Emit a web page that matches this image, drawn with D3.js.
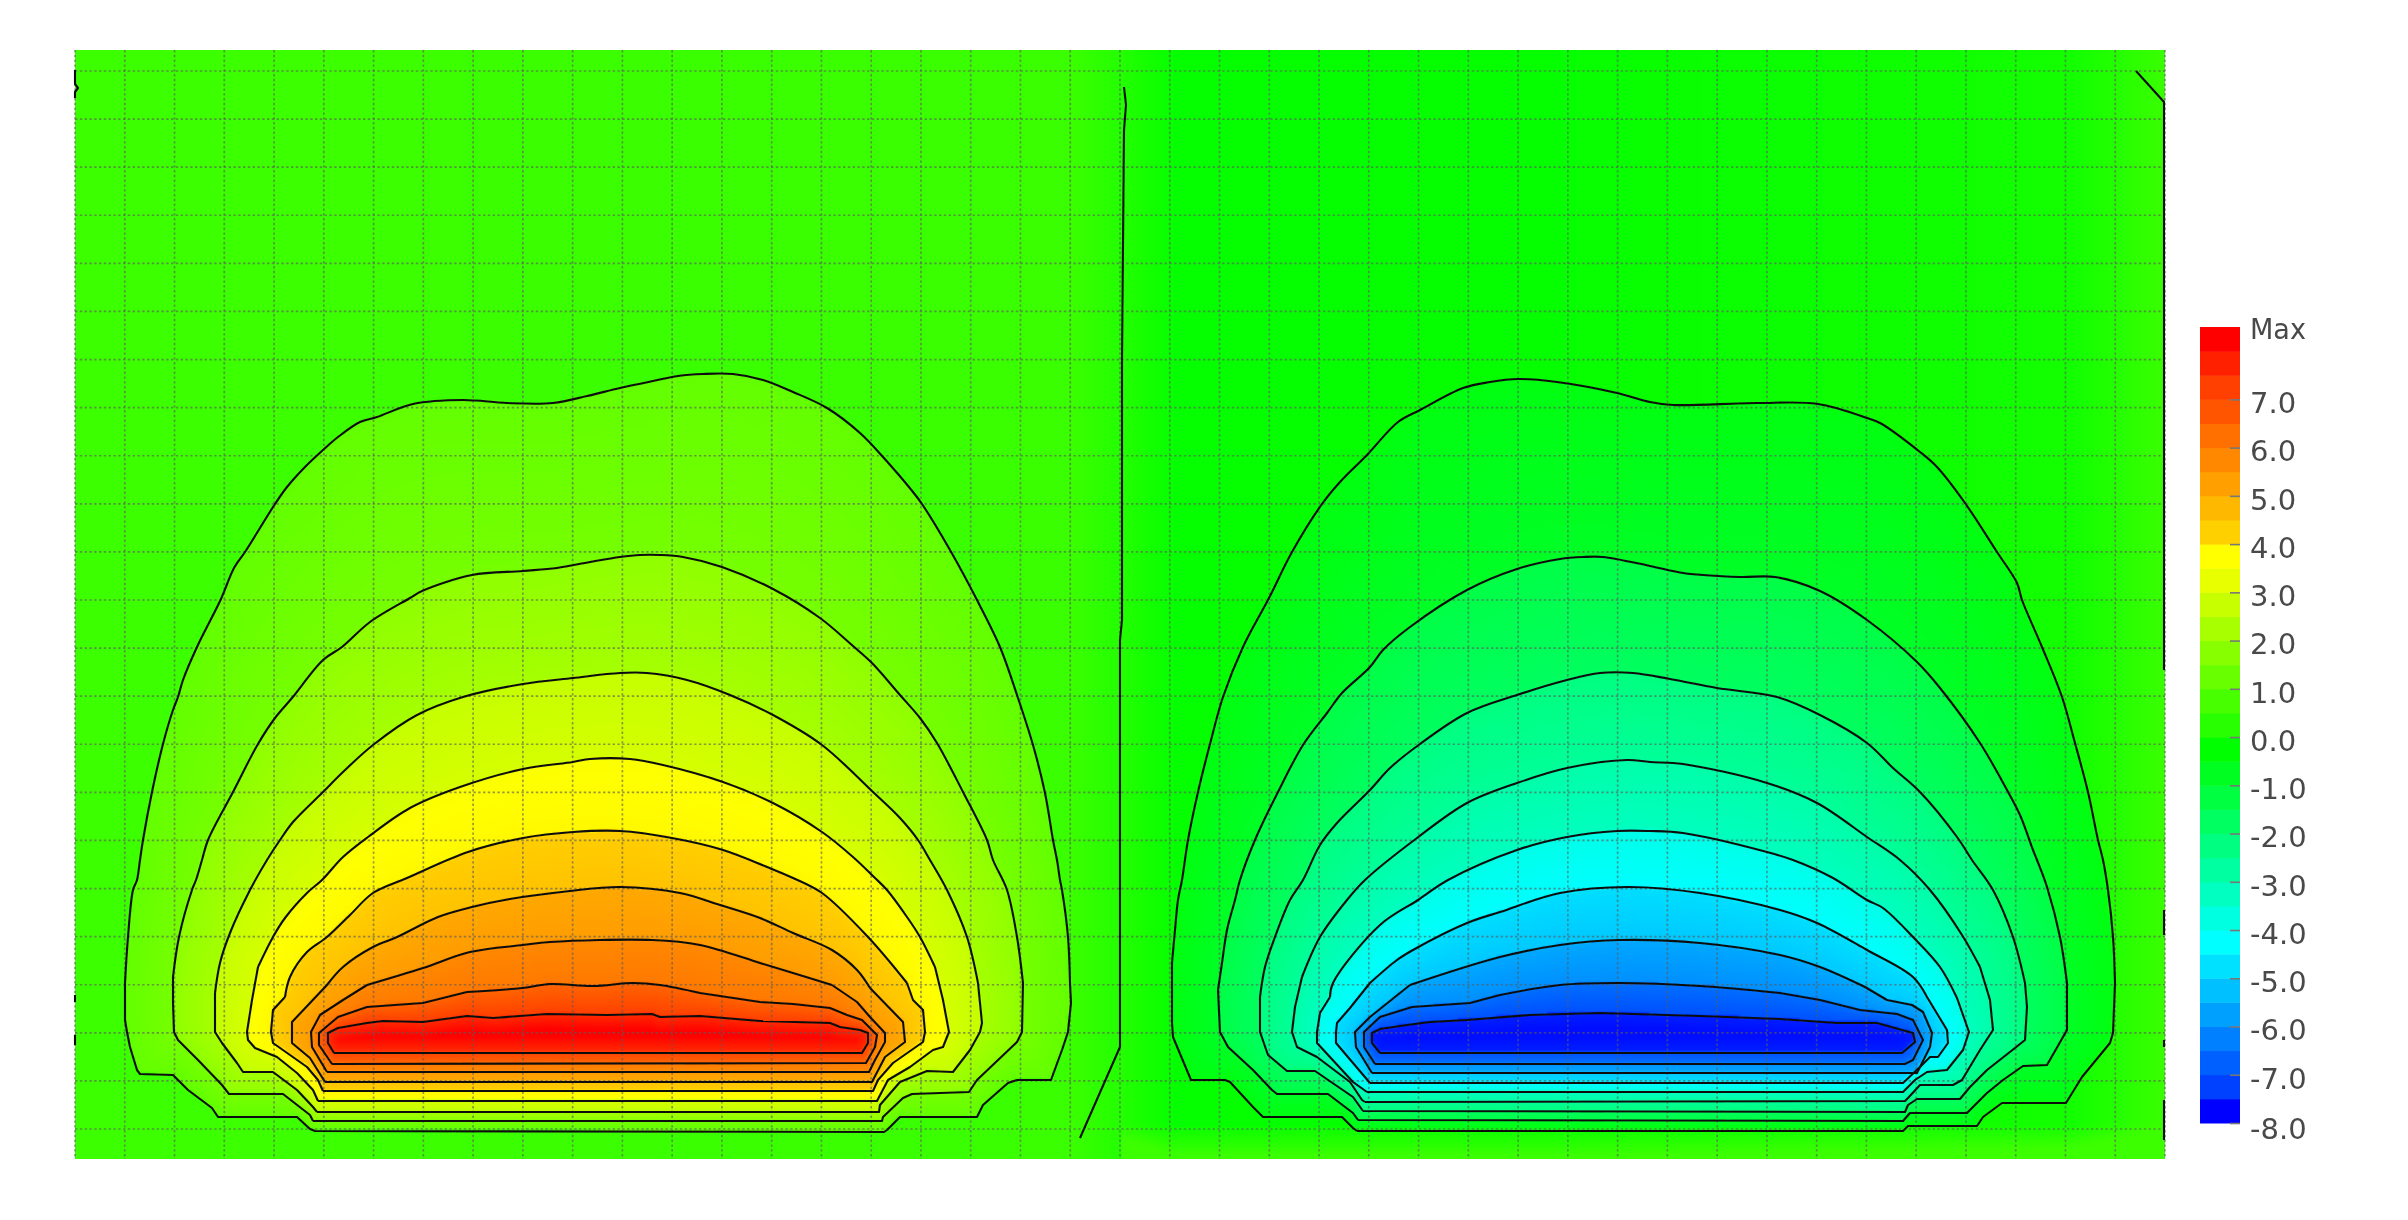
<!DOCTYPE html>
<html><head><meta charset="utf-8">
<script src="https://cdn.jsdelivr.net/npm/d3@7/dist/d3.min.js"></script>
<style>html,body{margin:0;background:#fff}#wrap{position:relative;width:2408px;height:1220px;overflow:hidden}
canvas{position:absolute;left:75px;top:50px;width:2090px;height:1109px}svg{position:absolute;left:0;top:0}</style>
</head><body><div id="wrap"><canvas id="field"></canvas><svg id="chart" width="2408" height="1220"></svg></div>
<script>
// Model extent (x, y), contour outlines, in model units
const modelWidth = 2090, modelHeight = 1109;
const meshColumns = 42, meshRows = 22;

const leftContours = [
[[240,1081],[235,1079],[222,1067],[143,1067],[137,1058],[113,1040],[98,1025],[65,1024],[62,1020],[55,997],[52,982],[50,970],[50,933],[53,887],[58,840],[62,830],[65,810],[68,790],[77,742],[88,694],[98,660],[103,647],[108,630],[122,597],[146,549],[159,518],[170,502],[200,454],[212,437],[230,417],[248,400],[263,387],[285,372],[302,367],[338,354],[388,350],[432,353],[478,353],[512,346],[545,338],[578,331],[603,326],[628,324],[658,324],[688,330],[718,342],[752,358],[785,383],[808,407],[838,442],[847,454],[875,500],[902,550],[925,597],[942,645],[958,695],[970,743],[978,790],[982,810],[985,830],[987,840],[993,887],[995,933],[996,953],[993,982],[987,1000],[976,1030],[942,1030],[933,1033],[908,1055],[902,1067],[825,1067],[812,1080],[809,1082]],
[[238,1071],[235,1065],[208,1044],[154,1044],[147,1035],[123,1010],[103,990],[99,982],[98,953],[98,927],[104,887],[117,840],[121,830],[127,810],[133,790],[158,742],[183,694],[200,668],[217,648],[248,610],[267,597],[295,572],[335,548],[347,541],[397,525],[448,521],[482,518],[515,512],[545,507],[565,505],[585,505],[608,507],[647,517],[698,539],[745,568],[778,596],[797,613],[825,645],[845,668],[862,693],[888,742],[912,790],[918,810],[932,840],[942,887],[948,933],[947,982],[942,992],[902,1030],[894,1042],[837,1044],[828,1048],[808,1067],[807,1071]],
[[242,1062],[238,1057],[222,1040],[198,1022],[168,1022],[162,1013],[147,993],[140,982],[140,943],[145,913],[155,883],[175,840],[192,810],[205,790],[218,772],[248,742],[268,722],[298,695],[342,665],[388,647],[448,634],[498,628],[545,623],[572,623],[612,630],[655,645],[698,665],[747,695],[798,742],[825,768],[843,790],[855,810],[872,840],[892,887],[903,933],[907,973],[905,982],[895,1000],[878,1022],[852,1021],[825,1032],[805,1055],[804,1062]],
[[243,1051],[238,1040],[222,1023],[202,1007],[180,998],[173,990],[172,982],[177,950],[183,917],[198,887],[210,868],[232,843],[247,830],[268,807],[293,787],[335,758],[385,737],[448,719],[498,712],[515,709],[555,709],[588,715],[648,732],[698,753],[747,782],[778,807],[800,828],[812,840],[832,867],[845,887],[860,917],[868,950],[874,982],[868,997],[858,1000],[835,1017],[813,1030],[802,1051]],
[[248,1041],[243,1030],[232,1017],[198,993],[196,982],[198,960],[210,947],[215,927],[232,902],[252,887],[275,865],[298,843],[332,828],[393,802],[448,788],[498,782],[545,781],[597,788],[648,800],[692,817],[718,828],[747,843],[793,887],[832,933],[838,950],[848,960],[850,982],[848,992],[818,1013],[803,1030],[798,1041]],
[[250,1032],[235,1008],[217,993],[217,972],[235,953],[252,935],[268,917],[298,897],[322,887],[363,867],[397,857],[435,849],[495,841],[545,837],[605,843],[645,855],[685,868],[718,883],[757,900],[782,920],[795,938],[828,972],[830,992],[810,1007],[797,1032]],
[[252,1022],[237,997],[236,982],[245,965],[268,950],[292,935],[348,918],[395,902],[448,895],[475,892],[577,890],[625,895],[685,913],[718,923],[757,935],[782,952],[795,967],[810,983],[810,992],[800,1010],[794,1022]],
[[257,1014],[244,995],[244,983],[263,967],[292,957],[348,953],[392,942],[448,938],[475,934],[518,936],[558,933],[585,935],[625,943],[685,952],[718,954],[755,958],[772,965],[787,970],[802,985],[800,997],[791,1013]],
[[259,1003],[253,993],[253,983],[263,978],[292,973],[308,971],[348,972],[392,966],[418,968],[472,964],[532,965],[577,964],[585,967],[625,966],[685,971],[755,973],[765,977],[785,980],[793,983],[793,993],[787,1003]]
];

const rightContours = [
[[1282,1081],[1278,1078],[1267,1067],[1188,1067],[1178,1057],[1155,1032],[1150,1030],[1116,1030],[1098,987],[1097,973],[1097,913],[1100,880],[1103,850],[1107,830],[1113,790],[1123,742],[1135,694],[1148,647],[1168,597],[1194,548],[1217,502],[1247,454],[1265,432],[1292,405],[1323,372],[1345,360],[1388,338],[1415,332],[1443,329],[1482,332],[1542,343],[1575,352],[1598,355],[1682,353],[1743,354],[1792,368],[1805,373],[1845,402],[1862,417],[1890,453],[1922,502],[1942,533],[1947,550],[1967,597],[1987,647],[2000,693],[2013,742],[2023,790],[2028,810],[2033,840],[2038,887],[2040,933],[2038,983],[2035,993],[2007,1027],[1991,1053],[1927,1053],[1908,1067],[1902,1076],[1833,1076],[1828,1081]],
[[1283,1070],[1278,1063],[1253,1044],[1202,1044],[1197,1040],[1178,1020],[1153,997],[1145,982],[1143,940],[1147,913],[1152,880],[1160,850],[1165,830],[1180,790],[1203,742],[1228,695],[1252,663],[1267,643],[1295,617],[1308,600],[1335,577],[1392,540],[1442,519],[1485,509],[1508,507],[1528,507],[1575,516],[1608,523],[1665,527],[1700,527],[1745,541],[1792,570],[1842,612],[1865,638],[1905,693],[1932,740],[1945,765],[1958,800],[1962,810],[1972,837],[1985,887],[1992,933],[1992,980],[1972,1015],[1948,1016],[1928,1030],[1912,1043],[1892,1063],[1835,1063],[1828,1071]],
[[1288,1061],[1278,1047],[1240,1021],[1212,1021],[1193,1005],[1185,982],[1185,947],[1190,917],[1200,887],[1215,850],[1228,830],[1245,795],[1262,773],[1295,740],[1315,718],[1345,694],[1392,663],[1442,645],[1492,630],[1525,623],[1558,623],[1595,629],[1642,638],[1702,647],[1745,665],[1792,693],[1818,718],[1845,742],[1882,787],[1897,810],[1918,840],[1938,887],[1950,933],[1952,957],[1950,990],[1940,998],[1912,1020],[1895,1037],[1885,1049],[1842,1049],[1833,1055],[1830,1062]],
[[1290,1052],[1287,1050],[1275,1032],[1242,1007],[1222,997],[1217,982],[1220,957],[1227,927],[1245,887],[1272,850],[1290,830],[1342,788],[1392,753],[1442,733],[1492,718],[1552,710],[1575,712],[1608,714],[1692,733],[1742,753],[1792,787],[1825,810],[1855,840],[1887,885],[1905,917],[1915,950],[1918,980],[1905,1000],[1887,1030],[1878,1035],[1845,1035],[1833,1048],[1830,1051]],
[[1292,1042],[1278,1032],[1242,993],[1242,982],[1245,963],[1255,947],[1258,933],[1305,875],[1343,850],[1373,830],[1442,800],[1492,787],[1542,781],[1575,781],[1608,783],[1692,802],[1718,810],[1758,828],[1792,850],[1808,858],[1838,887],[1865,917],[1882,948],[1894,982],[1888,1000],[1872,1020],[1852,1022],[1840,1030],[1828,1042]],
[[1295,1033],[1278,1013],[1261,993],[1261,982],[1262,973],[1275,958],[1295,933],[1322,910],[1338,900],[1392,873],[1425,862],[1485,843],[1553,837],[1625,843],[1705,860],[1742,873],[1792,900],[1838,927],[1852,947],[1872,980],[1873,993],[1863,1007],[1855,1007],[1845,1017],[1828,1033]],
[[1297,1023],[1281,997],[1280,982],[1295,967],[1335,935],[1425,907],[1485,895],[1545,890],[1625,893],[1705,905],[1745,917],[1790,937],[1812,950],[1837,955],[1848,962],[1857,983],[1855,997],[1842,1023],[1830,1023]],
[[1300,1014],[1289,997],[1289,982],[1305,967],[1337,957],[1395,953],[1425,945],[1485,935],[1545,933],[1625,936],[1705,943],[1745,950],[1785,960],[1822,964],[1838,970],[1848,990],[1838,1010],[1830,1014]],
[[1305,1003],[1297,993],[1297,983],[1305,979],[1332,975],[1355,972],[1392,970],[1455,965],[1525,963],[1625,966],[1705,969],[1762,973],[1802,973],[1838,983],[1840,992],[1827,1003]]
];

// Open contour pieces: centre divide, top-right corner, fragments along the edges
const openContours = [
[[1049,37],[1051,55],[1049,80],[1047,310],[1047,570],[1045,590],[1045,997],[1005,1088]],
[[2061,21],[2080,42],[2089,52],[2089,620]],
[[2089,860],[2089,885]],[[2089,990],[2089,997]],[[2089,1050],[2089,1090]],
[[0,20],[0,34],[3,38],[0,42],[0,48]],[[0,945],[0,952]],[[0,985],[0,995]]
];

// Field value at the outer and inner edge of each band between contours
const leftBandFrom  = [1.55,2.25,3.1,3.95,4.75,5.35,5.85,6.4,7.3];
const leftBandTo    = [1.85,2.6,3.35,4.1,4.95,5.55,6.1,7.0,8.0];
const rightBandFrom = [-0.25,-1.1,-2.0,-2.65,-3.65,-4.5,-5.35,-6.25,-7.5];
const rightBandTo   = [-0.6,-1.5,-2.4,-3.0,-4.0,-4.85,-5.75,-6.75,-7.8];

// Background level outside the outermost contours, across the model
const backgroundX = [0,1000,1047,1100,1500,2000,2090];
const backgroundV = [0.95,0.9,0.55,0.1,0.1,0.3,0.9];

// Colour legend
const legendTicks = [-8,-7,-6,-5,-4,-3,-2,-1,0,1,2,3,4,5,6,7];
const legendTop = 8.5, legendStep = 0.5;
const legendColors = ["#0000ff","#0040ff","#0060ff","#0080ff","#00a0ff","#00c0ff","#00e0ff","#00ffff","#00ffe0","#00ffc0","#00ffa0","#00ff80","#00ff60","#00ff40","#00ff20","#00ff00","#28ff00","#48ff00","#68ff00","#88ff00","#a8ff00","#c8ff00","#e8ff00","#ffff00","#ffd000","#ffb800","#ffa000","#ff8800","#ff7000","#ff5500","#ff4000","#ff2000","#ff0000"];

const plot = {left:75, top:50, right:2165, bottom:1159};
const x = d3.scaleLinear().domain([0,modelWidth]).range([plot.left,plot.right]);
const y = d3.scaleLinear().domain([0,modelHeight]).range([plot.top,plot.bottom]);
const meshX = d3.scaleLinear().domain([0,meshColumns]).range([75,2165]);
const meshY = d3.scaleLinear().domain([0,meshRows]).range([71,1129]);
const legendY = d3.scaleLinear().domain([-8,legendTop]).range([1123,327]);
const colorOf = d3.scaleLinear().domain([-8,-4,0,4,8]).range(["#0000ff","#00ffff","#00ff00","#ffff00","#ff0000"]).clamp(true);
const bgOf = d3.scaleLinear().domain(backgroundX).range(backgroundV).clamp(true);

// ---------- shaded field ----------
const lutN = 1600, lut = new Uint8Array(lutN*3);
for(let i=0;i<lutN;i++){const c=d3.rgb(colorOf(-8+16*i/(lutN-1)));lut[i*3]=c.r;lut[i*3+1]=c.g;lut[i*3+2]=c.b;}
function prep(list){return list.map(p=>{const xs=p.map(d=>d[0]),ys=p.map(d=>d[1]);return{p,x0:d3.min(xs),x1:d3.max(xs),y0:d3.min(ys),y1:d3.max(ys)};});}
const leftP=prep(leftContours), rightP=prep(rightContours);
function dist(poly,px,py){let best=1e12;const n=poly.length;for(let i=0;i<n;i++){const a=poly[i],b=poly[(i+1)%n];const dx=b[0]-a[0],dy=b[1]-a[1];const L=dx*dx+dy*dy;let t=L?((px-a[0])*dx+(py-a[1])*dy)/L:0;t=t<0?0:t>1?1:t;const ex=a[0]+t*dx-px,ey=a[1]+t*dy-py;const d=ex*ex+ey*ey;if(d<best)best=d;}return Math.sqrt(best);}
function inside(o,px,py){return px>=o.x0&&px<=o.x1&&py>=o.y0&&py<=o.y1&&d3.polygonContains(o.p,[px,py]);}
function fieldValue(px,py){
  const left=px<1047, set=left?leftP:rightP, from=left?leftBandFrom:rightBandFrom, to=left?leftBandTo:rightBandTo;
  let k=-1;for(let i=set.length-1;i>=0;i--){if(inside(set[i],px,py)){k=i;break;}}
  if(k<0){let v=bgOf(px);if(!left&&py>1075){v=Math.min(0.95,v+(py-1075)/34*0.9);}return v;}
  const dO=dist(set[k].p,px,py);
  let f;if(k===set.length-1){f=Math.min(1,dO/16);}else{const dI=dist(set[k+1].p,px,py);f=dO/(dO+dI);}
  return from[k]+(to[k]-from[k])*f;
}
const step=3, cw=Math.ceil(modelWidth/step), ch=Math.ceil(modelHeight/step);
const cv=document.getElementById("field");cv.width=cw;cv.height=ch;
const ctx=cv.getContext("2d"), img=ctx.createImageData(cw,ch);
for(let j=0;j<ch;j++)for(let i=0;i<cw;i++){
  const v=fieldValue((i+.5)*step,(j+.5)*step);
  let q=Math.round((v+8)/16*(lutN-1));q=q<0?0:q>=lutN?lutN-1:q;
  const o=(j*cw+i)*4;img.data[o]=lut[q*3];img.data[o+1]=lut[q*3+1];img.data[o+2]=lut[q*3+2];img.data[o+3]=255;
}
ctx.putImageData(img,0,0);

// ---------- svg layers ----------
const svg=d3.select("#chart");
const defs=svg.append("defs");
defs.append("filter").attr("id","soft").append("feGaussianBlur").attr("stdDeviation",0.55);
defs.append("filter").attr("id","softText").append("feGaussianBlur").attr("stdDeviation",0.7);

const mesh=svg.append("g").attr("filter","url(#soft)").attr("fill","none").attr("stroke","#5c5c5c").attr("stroke-opacity",0.62).attr("stroke-width",1.7).attr("stroke-dasharray","2.4 2.4");
mesh.selectAll("line.v").data(d3.range(meshColumns+1)).join("line").attr("class","v").attr("x1",d=>meshX(d)).attr("x2",d=>meshX(d)).attr("y1",plot.top).attr("y2",plot.bottom);
mesh.selectAll("line.h").data(d3.range(meshRows+1)).join("line").attr("class","h").attr("y1",d=>meshY(d)).attr("y2",d=>meshY(d)).attr("x1",plot.left).attr("x2",plot.right);

// Upper arcs are smooth; the stepped foot of each contour stays straight-edged.
const arcLine=d3.line().x(d=>x(d[0])).y(d=>y(d[1])).curve(d3.curveCatmullRom.alpha(0.5));
const openLine=d3.line().x(d=>x(d[0])).y(d=>y(d[1]));
const arcLimit=950;
function contourPath(pts){
  const first=pts.findIndex(p=>p[1]<arcLimit);
  if(first<0) return openLine(pts.concat([pts[0]]));
  let last=pts.length-1; while(pts[last][1]>=arcLimit) last--;
  return openLine(pts.slice(0,first+1))+arcLine(pts.slice(first,last+1))+openLine(pts.slice(last).concat([pts[0]]));
}
const lines=svg.append("g").attr("filter","url(#soft)").attr("fill","none").attr("stroke","#111").attr("stroke-width",2.1).attr("stroke-linejoin","round");
lines.selectAll("path.c").data(leftContours.concat(rightContours)).join("path").attr("class","c").attr("d",contourPath);
lines.selectAll("path.o").data(openContours).join("path").attr("class","o").attr("d",openLine);

// legend
const bands=svg.append("g");
bands.selectAll("rect").data(legendColors).join("rect")
  .attr("x",2200).attr("width",40)
  .attr("y",(d,i)=>legendY(-8+(i+1)*legendStep))
  .attr("height",legendY(-8)-legendY(-8+legendStep)+0.5)
  .attr("fill",d=>d);
const axis=d3.axisRight(legendY).tickValues(legendTicks).tickFormat(d=>d.toFixed(1)).tickSize(-10).tickPadding(11);
const ag=svg.append("g").attr("transform","translate(2240,0)").attr("filter","url(#softText)").call(axis);
ag.select(".domain").remove();
ag.selectAll("line").attr("stroke","#777").attr("stroke-width",1.6);
ag.selectAll(".tick text").attr("x",10).attr("dy","0.32em").attr("transform",d=>"translate(0,"+(d===-8?6:4)+")").attr("fill","#4a4a4a").style("font-family","'DejaVu Sans'").style("font-size","29px");
ag.append("text").attr("x",10).attr("y",legendY(legendTop)+3).attr("dy","0.32em").attr("fill","#4a4a4a").attr("text-anchor","start").attr("textLength",56).attr("lengthAdjust","spacingAndGlyphs").style("font-family","'DejaVu Sans'").style("font-size","28px").text("Max");
</script></body></html>
